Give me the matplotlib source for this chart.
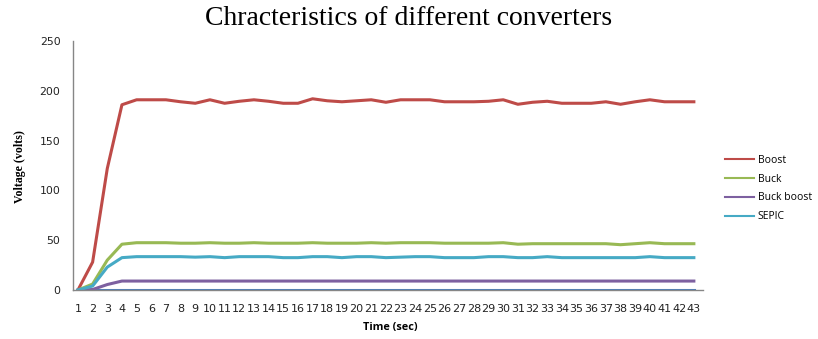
import numpy as np
import matplotlib
matplotlib.use("Agg")
import matplotlib.pyplot as plt

# =====================================
# Data : output voltage per second
# =====================================

time_sec = list(range(1, 44))

boost = [0, 28, 122, 186, 191, 191, 191, 189, 187.5, 191, 187.5, 189.5, 191, 189.5,
         187.5, 187.5, 192, 190, 189, 190, 191, 188.5, 191, 191, 191, 189, 189, 189,
         189.5, 191, 186.5, 188.5, 189.5, 187.5, 187.5, 187.5, 189, 186.5, 189, 191,
         189, 189, 189]

buck = [0, 6, 30, 46, 47.5, 47.5, 47.5, 47, 47, 47.5, 47, 47, 47.5, 47, 47, 47, 47.5,
        47, 47, 47, 47.5, 47, 47.5, 47.5, 47.5, 47, 47, 47, 47, 47.5, 46, 46.5, 46.5,
        46.5, 46.5, 46.5, 46.5, 45.5, 46.5, 47.5, 46.5, 46.5, 46.5]

buck_boost = [0, 0.5, 5.5, 9] + [9] * 39

sepic = [0, 4, 23, 32.5, 33.5, 33.5, 33.5, 33.5, 33, 33.5, 32.5, 33.5, 33.5, 33.5,
         32.5, 32.5, 33.5, 33.5, 32.5, 33.5, 33.5, 32.5, 33, 33.5, 33.5, 32.5, 32.5,
         32.5, 33.5, 33.5, 32.5, 32.5, 33.5, 32.5, 32.5, 32.5, 32.5, 32.5, 32.5, 33.5,
         32.5, 32.5, 32.5]

baseline = [0] * 43

# =====================================
# Plot
# =====================================

fig = plt.figure(figsize=(8.18, 3.39), dpi=100)
ax = fig.add_axes([0.0892, 0.1445, 0.7698, 0.7345])

lw = 2.2
ax.plot(time_sec, baseline, color="#4a7ebb", lw=lw, label="_nolegend_")
ax.plot(time_sec, boost, color="#be4b48", lw=lw, label="Boost")
ax.plot(time_sec, buck, color="#98b954", lw=lw, label="Buck")
ax.plot(time_sec, buck_boost, color="#7d60a0", lw=lw, label="Buck boost")
ax.plot(time_sec, sepic, color="#46aac5", lw=lw, label="SEPIC")

ax.set_xlim(0.66, 43.6)
ax.set_ylim(0, 250)
ax.set_yticks(range(0, 251, 50))
ax.set_xticks(time_sec)
ax.set_xticklabels([str(t) for t in time_sec])

for side in ["top", "right"]:
    ax.spines[side].set_visible(False)
for side in ["left", "bottom"]:
    ax.spines[side].set_color("#868686")
    ax.spines[side].set_linewidth(1.0)

ax.tick_params(axis="y", length=0, pad=9, labelsize=7.8, labelcolor="#222222")
ax.tick_params(axis="x", length=0, pad=10, labelsize=8, labelcolor="#222222")
for lab in ax.get_xticklabels() + ax.get_yticklabels():
    lab.set_family("DejaVu Sans")

fig.text(0.5, 0.945, "Chracteristics of different converters",
         ha="center", va="center", fontsize=20, family="Liberation Serif")
fig.text(0.024, 0.51, "Voltage (volts)", rotation=90, ha="center", va="center",
         fontsize=8.6, fontweight="bold", family="Liberation Serif")
fig.text(0.477, 0.035, "Time (sec)", ha="center", va="center",
         fontsize=7.8, fontweight="bold", family="Open Sans")

ax.legend(loc="upper left", bbox_to_anchor=(0.875, 0.571), bbox_transform=fig.transFigure,
          frameon=False, handlelength=2.8, handletextpad=0.35,
          labelspacing=0.75, prop={"family": "Open Sans", "size": 7.5})

for line in ax.get_legend().get_lines():
    line.set_linewidth(1.5)

fig.savefig("out.png", dpi=100)
